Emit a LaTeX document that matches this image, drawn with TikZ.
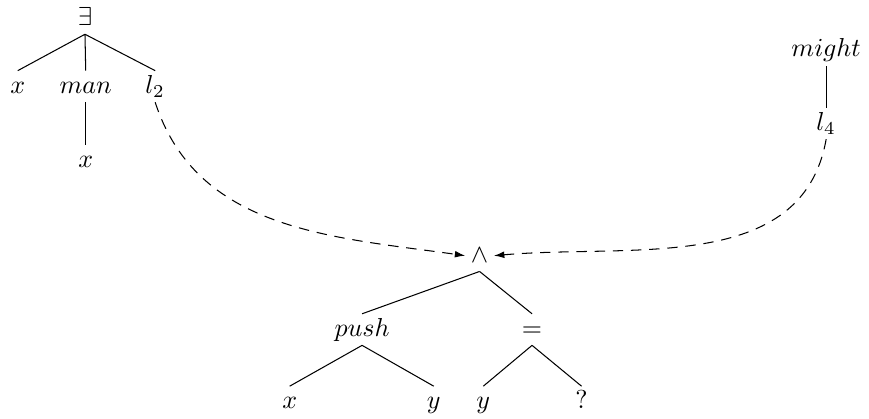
\documentclass[tikz,border=0pt]{standalone}
\usepackage{amsmath,amssymb}
\usetikzlibrary{calc,arrows.meta}

\begin{document}
\begin{tikzpicture}[lbl/.style={inner sep=2pt, text height=1.5ex, text depth=.3ex},
                    link/.style={dash pattern=on 4pt off 3pt, -{Latex[length=4pt,width=2.6pt]}}]
                \useasboundingbox (0,0) rectangle (11.76,-5.67);
                % first tree
                \node[lbl](E)at(1.15,-0.25){$\exists$};
                \node[lbl](X1)at(0.24,-1.17){$x$};
                \node[lbl](MAN)at(1.16,-1.17){$man$};
                \node[lbl](L2)at(2.10,-1.17){$l_2$};
                \node[lbl](X2)at(1.16,-2.17){$x$};
                \path[draw](E.south)to(X1.north);
                \path[draw](E.south)to(MAN.north);
                \path[draw](E.south)to(L2.north);
                \path[draw](MAN.south)to(X2.north);

                % modal
                \node[lbl](MIGHT)at(11.18,-0.68){$might$};
                \node[lbl](L4)at(11.18,-1.67){$l_4$};
                \path[draw](MIGHT.south)to(L4.north);

                % conjunction tree
                \node[lbl](AND)at(6.49,-3.46){$\wedge$};
                \node[lbl](PUSH)at(4.90,-4.46){$push$};
                \node[lbl](EQ)at(7.20,-4.46){$=$};
                \node[lbl](X3)at(3.92,-5.44){$x$};
                \node[lbl](Y1)at(5.87,-5.44){$y$};
                \node[lbl](Y2)at(6.54,-5.44){$y$};
                \node[lbl](Q)at(7.87,-5.44){$?$};
                \path[draw](AND.south)to(PUSH.north);
                \path[draw](AND.south)to(EQ.north);
                \path[draw](PUSH.south)to(X3.north);
                \path[draw](PUSH.south)to(Y1.north);
                \path[draw](EQ.south)to(Y2.north);
                \path[draw](EQ.south)to(Q.north);

                % links
                \path[draw, link](L2.south)to[out=-72, in=172](AND.west);
                \path[draw, link](L4.south)to[out=-100, in=5](AND.east);
            \end{tikzpicture}
\end{document}
